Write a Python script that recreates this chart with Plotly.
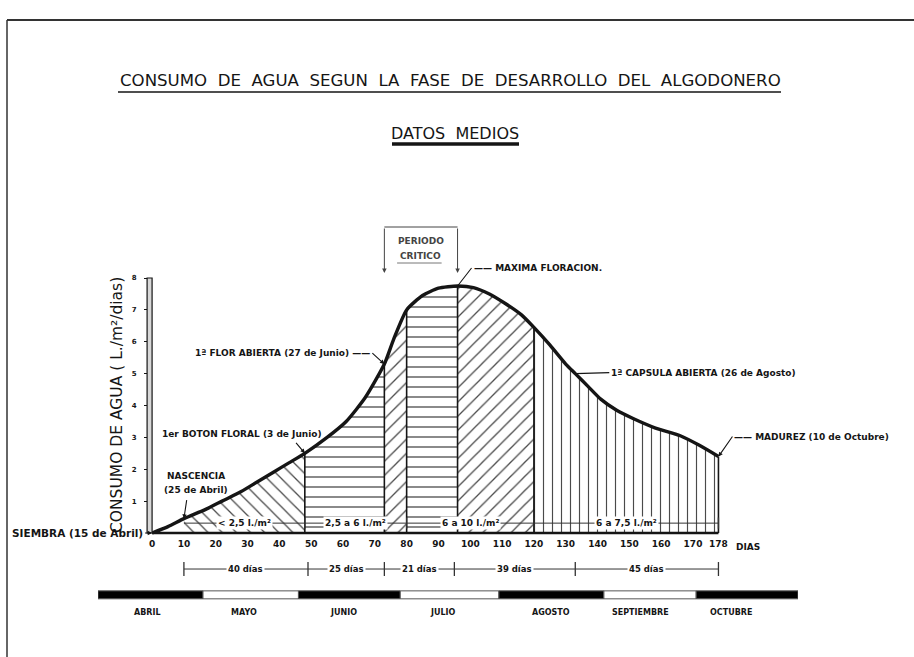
import plotly.graph_objects as go

# ---------------- data ----------------
DAYS = [0, 5, 10, 17, 22, 28, 33, 38, 43, 48, 55, 61, 67, 73, 76, 80, 85, 90, 96,
        101, 106, 111, 116, 120, 125, 130, 133, 137, 141, 146, 151, 158, 166, 172, 178]
CONSUMO = [0, 0.2, 0.45, 0.75, 1.0, 1.3, 1.6, 1.9, 2.2, 2.5, 3.0, 3.5, 4.25, 5.3, 6.1, 7.0, 7.45, 7.68, 7.75,
           7.7, 7.5, 7.2, 6.85, 6.45, 5.9, 5.3, 5.0, 4.6, 4.2, 3.85, 3.6, 3.3, 3.05, 2.75, 2.4]

X_TICKS = [0, 10, 20, 30, 40, 50, 60, 70, 80, 90, 100, 110, 120, 130, 140, 150, 160, 170, 178]
X_TICK_TEXT = [str(v) for v in X_TICKS]
Y_TICKS = [1, 2, 3, 4, 5, 6, 7, 8]

HATCH_START = [10, 48, 73, 80, 96, 120]
HATCH_END = [48, 73, 80, 96, 120, 178]
HATCH_SHAPE = ["\\", "-", "/", "-", "/", "|"]
BOUNDARY_DAYS = [48, 73, 80, 96, 120, 178]

RATE_LIMITS = [10, 48, 80, 120, 178]
RATE_LABELS = ["< 2,5 l./m²", "2,5 a 6 l./m²", "6 a 10 l./m²", "6 a 7,5 l./m²"]

PHASE_DAYS = [10, 49, 73, 95, 133, 178]
PHASE_LABELS = ["40 días", "25 días", "21 días", "39 días", "45 días"]

CRITICAL = [73, 96]

MONTHS = ["ABRIL", "MAYO", "JUNIO", "JULIO", "AGOSTO", "SEPTIEMBRE", "OCTUBRE"]
MONTH_START = [-17, 16, 46, 78, 109, 142, 171]
MONTH_END = [16, 46, 78, 109, 142, 171, 203]
MONTH_LABEL_DAY = [-1.5, 29, 60, 91.5, 125.5, 153.5, 182]
MONTH_COLOR = ["black", "white", "black", "white", "black", "white", "black"]

# ---------------- layout geometry ----------------
W, H = 914, 657
L, R, T, B = 98, 116, 182, 32
PW, PH = W - L - R, H - T - B
X_RANGE = [-17, 203]
Y_RANGE = [-2.886, 11.012]
RATE_Y = 0.31
DIM_Y = -1.13
MONTH_Y = -1.94
MONTH_LABEL_Y = -2.48


def px(x):
    return (x - L) / PW


def py(y):
    return (H - B - y) / PH


def val(d):
    return CONSUMO[DAYS.index(d)]


FONT = "DejaVu Sans"
INK = "#151515"

fig = go.Figure()

# hatched areas
for s, e, shp in zip(HATCH_START, HATCH_END, HATCH_SHAPE):
    i0, i1 = DAYS.index(s), DAYS.index(e)
    fig.add_trace(go.Scatter(
        x=DAYS[i0:i1 + 1], y=CONSUMO[i0:i1 + 1], mode="lines", fill="tozeroy",
        line=dict(width=0, color="rgba(0,0,0,0)"),
        fillcolor="rgba(0,0,0,0)",
        fillpattern=dict(shape=shp, size=10 if shp != "|" else 9, solidity=0.13,
                         fgcolor="#4a4a4a", bgcolor="rgba(0,0,0,0)", fillmode="replace"),
        hoverinfo="skip", showlegend=False))

# vertical boundary lines
for d in BOUNDARY_DAYS:
    fig.add_trace(go.Scatter(x=[d, d], y=[0, val(d)], mode="lines",
                             line=dict(color=INK, width=1.6), hoverinfo="skip", showlegend=False))

# main curve
fig.add_trace(go.Scatter(x=DAYS, y=CONSUMO, mode="lines",
                         line=dict(color=INK, width=3.4, shape="spline", smoothing=0.6),
                         showlegend=False))

# baseline
fig.add_trace(go.Scatter(x=[DAYS[0], DAYS[-1]], y=[0, 0], mode="lines",
                         line=dict(color=INK, width=2.4), hoverinfo="skip", showlegend=False))

# water-rate dimension row
fig.add_trace(go.Scatter(x=[RATE_LIMITS[0], RATE_LIMITS[-1]], y=[RATE_Y, RATE_Y], mode="lines",
                         line=dict(color="#333", width=1), hoverinfo="skip", showlegend=False))
fig.add_trace(go.Scatter(x=RATE_LIMITS[1:], y=[RATE_Y] * (len(RATE_LIMITS) - 1), mode="markers",
                         marker=dict(symbol="line-ns", size=8, line=dict(color="#333", width=1.3)),
                         hoverinfo="skip", showlegend=False))

# phase-duration dimension row
fig.add_trace(go.Scatter(x=[PHASE_DAYS[0], PHASE_DAYS[-1]], y=[DIM_Y, DIM_Y], mode="lines",
                         line=dict(color="#333", width=1), hoverinfo="skip", showlegend=False))
fig.add_trace(go.Scatter(x=PHASE_DAYS, y=[DIM_Y] * len(PHASE_DAYS), mode="markers",
                         marker=dict(symbol="line-ns", size=10, line=dict(color="#333", width=1.3)),
                         hoverinfo="skip", showlegend=False))

# month bar
fig.add_trace(go.Bar(orientation="h", y=[MONTH_Y] * len(MONTHS),
                     x=[e - s for s, e in zip(MONTH_START, MONTH_END)], base=MONTH_START,
                     width=0.25, marker=dict(color=MONTH_COLOR, line=dict(color="#555", width=1)),
                     hoverinfo="skip", showlegend=False))

ann = []
small = dict(family=FONT, size=9, color=INK, weight="bold")
C = dict(xanchor="center", yanchor="middle", showarrow=False)

# titles
ann.append(dict(xref="paper", yref="paper", x=px(450), y=py(80), **C,
                text="CONSUMO \u00a0DE \u00a0AGUA \u00a0SEGUN \u00a0LA \u00a0FASE \u00a0DE \u00a0DESARROLLO \u00a0DEL \u00a0ALGODONERO",
                font=dict(family=FONT, size=16.6, color=INK)))
ann.append(dict(xref="paper", yref="paper", x=px(455), y=py(133), **C,
                text="DATOS \u00a0MEDIOS", font=dict(family=FONT, size=16, color=INK)))
ann.append(dict(xref="paper", yref="paper", x=px(117), y=py(405), **C, textangle=-90,
                text="CONSUMO DE AGUA ( L./m²/dias)", font=dict(family=FONT, size=15.5, color=INK)))
ann.append(dict(xref="paper", yref="paper", x=px(748), y=py(547), **C,
                text="DIAS", font=small))

# curve event labels
arrow = dict(arrowcolor=INK, arrowwidth=1.1, arrowsize=0.8)
ann.append(dict(x=0, y=0, ax=-7, ay=0, text="SIEMBRA (15 de Abril)", xanchor="right", yanchor="middle",
                arrowhead=2, font=dict(family=FONT, size=10.5, color=INK, weight="bold"), **arrow))
ann.append(dict(x=10, y=val(10), ax=3, ay=-20, text="", arrowhead=2, **arrow))
ann.append(dict(xref="paper", yref="paper", x=px(196), y=py(476), **C, text="NASCENCIA", font=small))
ann.append(dict(xref="paper", yref="paper", x=px(196), y=py(490), **C, text="(25 de Abril)", font=small))
ann.append(dict(xref="paper", yref="paper", x=px(242), y=py(434), **C,
                text="1er BOTON FLORAL (3 de Junio)", font=small))
ann.append(dict(x=48, y=val(48), ax=-10, ay=-12, text="", arrowhead=2, **arrow))
ann.append(dict(x=73, y=val(73), ax=-12, ay=-11, text="1ª FLOR ABIERTA (27 de Junio) ——", xanchor="right",
                yanchor="middle", arrowhead=2, font=small, **arrow))
ann.append(dict(x=96, y=val(96), ax=14, ay=-18, text="—— MAXIMA FLORACION.", xanchor="left",
                yanchor="middle", arrowhead=0, font=small, **arrow))
ann.append(dict(x=133, y=val(133), ax=34, ay=-1, text="1ª CAPSULA ABIERTA (26 de Agosto)", xanchor="left",
                yanchor="middle", arrowhead=0, font=small, **arrow))
ann.append(dict(x=178, y=val(178), ax=14, ay=-20, text="—— MADUREZ (10 de Octubre)", xanchor="left",
                yanchor="middle", arrowhead=2, font=small, **arrow))

# critical period bracket
for d in CRITICAL:
    ann.append(dict(x=d, xref="x", yref="paper", y=py(273), ax=0, ay=-46, text="", arrowhead=2,
                    arrowcolor="#444", arrowwidth=1, arrowsize=0.9))
mid_crit = sum(CRITICAL) / len(CRITICAL)
ann.append(dict(x=mid_crit, xref="x", yref="paper", y=py(241), **C, text="PERIODO",
                font=dict(family=FONT, size=9, color="#444", weight="bold")))
ann.append(dict(x=mid_crit, xref="x", yref="paper", y=py(256), **C, text="CRITICO",
                font=dict(family=FONT, size=9, color="#444", weight="bold")))

# rate labels
for i, lab in enumerate(RATE_LABELS):
    ann.append(dict(x=(RATE_LIMITS[i] + RATE_LIMITS[i + 1]) / 2, y=RATE_Y, **C, text=lab,
                    bgcolor="white", borderpad=1, font=small))
# phase duration labels
for i, lab in enumerate(PHASE_LABELS):
    ann.append(dict(x=(PHASE_DAYS[i] + PHASE_DAYS[i + 1]) / 2, y=DIM_Y, **C, text=lab,
                    bgcolor="white", borderpad=1, font=dict(family=FONT, size=8.5, color=INK, weight="bold")))
# month labels
for d, m in zip(MONTH_LABEL_DAY, MONTHS):
    ann.append(dict(x=d, y=MONTH_LABEL_Y, **C, text=m,
                    font=dict(family=FONT, size=8, color=INK, weight="bold")))

shapes = [
    # frame
    dict(type="line", xref="paper", yref="paper", x0=px(7), x1=px(914), y0=py(20), y1=py(20),
         line=dict(color="#333", width=2)),
    dict(type="line", xref="paper", yref="paper", x0=px(7), x1=px(7), y0=py(20), y1=py(657),
         line=dict(color="#333", width=1.5)),
    # title underlines
    dict(type="line", xref="paper", yref="paper", x0=px(118), x1=px(781), y0=py(92), y1=py(92),
         line=dict(color=INK, width=1.6)),
    dict(type="line", xref="paper", yref="paper", x0=px(392), x1=px(519), y0=py(144), y1=py(144),
         line=dict(color=INK, width=3.5)),
    # y axis hollow bar
    dict(type="rect", xref="x", yref="y", xsizemode="pixel", xanchor=0, x0=-5, x1=0, y0=0, y1=Y_TICKS[-1],
         line=dict(color=INK, width=1.2), fillcolor="#d8d8d8"),
    # critical period top line
    dict(type="line", xref="x", yref="paper", x0=CRITICAL[0], x1=CRITICAL[1], y0=py(227), y1=py(227),
         line=dict(color="#444", width=1)),
    dict(type="line", xref="x", yref="paper", x0=CRITICAL[0] + 4, x1=CRITICAL[1] - 5, y0=py(263), y1=py(263),
         line=dict(color="#777", width=1)),
]

fig.update_layout(
    width=W, height=H, margin=dict(l=L, r=R, t=T, b=B),
    paper_bgcolor="white", plot_bgcolor="white",
    barmode="overlay", showlegend=False,
    annotations=ann, shapes=shapes,
    xaxis=dict(range=X_RANGE, showgrid=False, zeroline=False, showline=False,
               tickvals=X_TICKS, ticktext=X_TICK_TEXT, ticks="",
               tickfont=dict(family=FONT, size=9, color=INK, weight="bold"),
               anchor="free", position=(0 - Y_RANGE[0]) / (Y_RANGE[1] - Y_RANGE[0]),
               ticklabelstandoff=4),
    yaxis=dict(range=Y_RANGE, showgrid=False, zeroline=False, showline=False,
               tickvals=Y_TICKS, ticks="outside", ticklen=3, tickcolor=INK,
               tickfont=dict(family=FONT, size=7, color=INK, weight="bold"),
               anchor="free", position=(0 - X_RANGE[0]) / (X_RANGE[1] - X_RANGE[0]) - 5 / PW,
               ticklabelstandoff=6),
)

fig.write_html("out.html", config={"displayModeBar": False},
               post_script="document.body.style.margin='0';")
